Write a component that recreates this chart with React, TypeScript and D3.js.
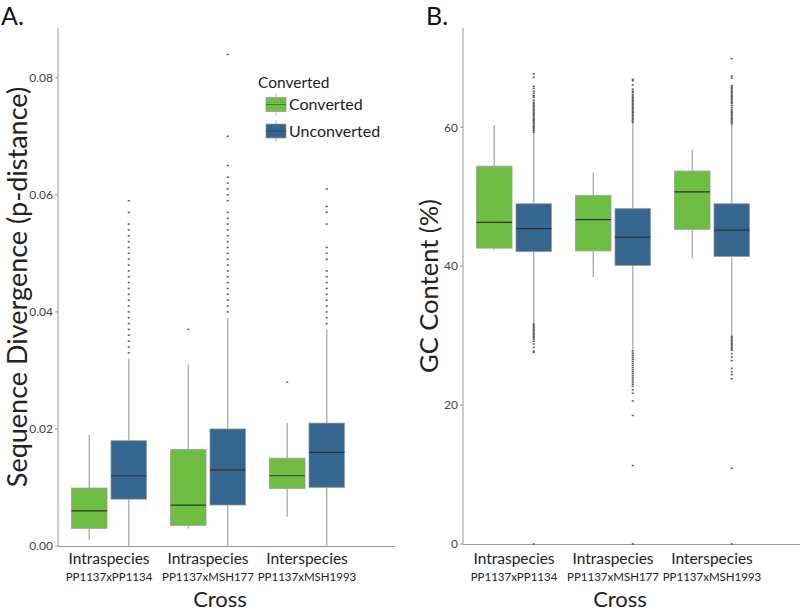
import React from "react";
import * as d3 from "d3";

const categories = ["Intraspecies", "Intraspecies", "Interspecies"];
const subLabels = ["PP1137xPP1134", "PP1137xMSH177", "PP1137xMSH1993"];
const groups = ["Converted", "Unconverted"];

// [whiskerLow, q1, median, q3, whiskerHigh] per cross
const divConverted = [
  [0.001, 0.003, 0.006, 0.0099, 0.019],
  [0.003, 0.0035, 0.007, 0.0165, 0.031],
  [0.005, 0.0098, 0.012, 0.015, 0.021],
];
const divUnconverted = [
  [0.0, 0.008, 0.012, 0.018, 0.032],
  [0.0, 0.007, 0.013, 0.02, 0.039],
  [0.0, 0.01, 0.016, 0.021, 0.037],
];
const divOutConverted = [[], [0.037], [0.028]];
const divOutUnconverted = [
  [0.033, 0.034, 0.035, 0.036, 0.037, 0.038, 0.039, 0.04, 0.041, 0.042, 0.043, 0.044, 0.045, 0.046, 0.047, 0.048, 0.049, 0.05, 0.051, 0.052, 0.053, 0.054, 0.055, 0.057, 0.059],
  [0.04, 0.041, 0.042, 0.043, 0.044, 0.045, 0.046, 0.047, 0.048, 0.049, 0.05, 0.051, 0.052, 0.053, 0.054, 0.055, 0.056, 0.057, 0.059, 0.06, 0.061, 0.062, 0.063, 0.065, 0.07, 0.084],
  [0.038, 0.039, 0.04, 0.041, 0.042, 0.043, 0.044, 0.045, 0.046, 0.047, 0.049, 0.05, 0.051, 0.055, 0.057, 0.058, 0.061],
];
const divTicks = [0, 0.02, 0.04, 0.06, 0.08];

const gcConverted = [
  [42.3, 42.6, 46.3, 54.4, 60.3],
  [38.4, 42.2, 46.7, 50.2, 53.5],
  [41.1, 45.3, 50.7, 53.7, 56.8],
];
const gcUnconverted = [
  [31.8, 42.1, 45.4, 49.0, 59.2],
  [28.0, 40.1, 44.2, 48.3, 60.6],
  [30.0, 41.4, 45.2, 49.0, 60.4],
];
const gcOutConverted = [[], [], []];
const gcOutUnconverted = [
  [59.3, 59.5, 59.6, 59.8, 60.0, 60.1, 60.3, 60.5, 60.6, 60.8, 61.0, 61.1, 61.3, 61.5, 61.7, 61.9, 62.0, 62.2, 62.4, 62.6, 62.8, 63.0, 63.2, 63.4, 63.6, 63.9, 64.3, 64.5, 64.6, 64.9, 65.2, 65.6, 65.9, 67.2, 67.7,
   31.7, 31.5, 31.3, 31.1, 30.9, 30.7, 30.5, 30.3, 30.1, 29.9, 29.7, 29.5, 29.2, 28.8, 28.3, 27.8, 27.6, 0],
  [60.7, 60.9, 61.1, 61.3, 61.5, 61.7, 61.9, 62.1, 62.3, 62.5, 62.7, 62.9, 63.1, 63.3, 63.5, 63.7, 63.9, 64.1, 64.3, 64.5, 64.7, 65.0, 65.2, 65.5, 66.1, 66.7, 66.9,
   27.8, 27.5, 27.2, 26.9, 26.6, 26.3, 26.0, 25.7, 25.4, 25.1, 24.8, 24.5, 24.2, 23.9, 23.6, 23.3, 23.0, 22.7, 22.2, 21.7, 20.6, 18.5, 11.3, 0],
  [60.5, 60.7, 60.9, 61.1, 61.3, 61.5, 61.7, 61.9, 62.1, 62.3, 62.5, 62.8, 63.1, 63.4, 63.6, 63.8, 64.0, 64.2, 64.4, 64.6, 64.8, 65.0, 65.2, 65.4, 65.6, 65.8, 66.0, 67.1, 67.4, 69.9,
   29.9, 29.7, 29.5, 29.3, 29.1, 28.9, 28.7, 28.5, 28.3, 28.1, 27.9, 27.4, 26.9, 26.4, 25.3, 24.8, 24.4, 23.8, 10.9, 0],
];
const gcTicks = [0, 20, 40, 60];

const COLORS = { Converted: "#6fbe44", Unconverted: "#35668f" };
const FONT = "Lato, 'Open Sans', sans-serif";

type PanelProps = {
  x0: number;
  xEnd: number;
  yTop: number;
  yBottom: number;
  yMax: number;
  ticks: number[];
  fmt: (v: number) => string;
  conv: number[][];
  unconv: number[][];
  outConv: number[][];
  outUnconv: number[][];
  letter: string;
  letterX: number;
  yLabel: string;
  yLabelX: number;
  yLabelSize: number;
  crossX: number;
};

function Panel(p: PanelProps) {
  const y = d3.scaleLinear().domain([0, p.yMax]).range([p.yBottom, p.yTop]);
  const xb = d3
    .scaleBand<number>()
    .domain([0, 1, 2])
    .range([p.x0 + 1.5, p.x0 + 298.5]);
  const xg = d3.scaleBand<string>().domain(groups).range([-37.5, 37.5]).paddingInner(0.1);
  const bw = xg.bandwidth();
  const midY = (p.yTop + p.yBottom) / 2;

  const renderBox = (stats: number[], outs: number[], gi: number, g: string) => {
    const cx = (xb(gi) as number) + xb.bandwidth() / 2 + (xg(g) as number) + bw / 2;
    const [wl, q1, med, q3, wh] = stats;
    return (
      <g key={g + gi}>
        <line x1={cx} x2={cx} y1={y(wh)} y2={y(q3)} stroke="#b5b5b5" strokeWidth={1.5} />
        <line x1={cx} x2={cx} y1={y(q1)} y2={y(wl)} stroke="#b5b5b5" strokeWidth={1.5} />
        <rect
          x={cx - bw / 2}
          y={y(q3)}
          width={bw}
          height={y(q1) - y(q3)}
          fill={COLORS[g as keyof typeof COLORS]}
          stroke="#9a9a9a"
          strokeOpacity={0.7}
          strokeWidth={1}
        />
        <line x1={cx - bw / 2} x2={cx + bw / 2} y1={y(med)} y2={y(med)} stroke="#333" strokeWidth={1.2} />
        {outs.map((v, i) => (
          <rect key={i} x={cx - 1} y={y(v) - 0.75} width={2} height={1.5} fill="#555" />
        ))}
      </g>
    );
  };

  return (
    <g fontFamily={FONT}>
      <text x={p.letterX} y={25} fontSize={25} fill="#111">
        {p.letter}
      </text>
      {/* axes */}
      <line x1={p.x0} x2={p.x0} y1={p.yTop} y2={p.yBottom + 0.5} stroke="#999" strokeWidth={1} />
      <line x1={p.x0} x2={p.xEnd} y1={p.yBottom + 0.5} y2={p.yBottom + 0.5} stroke="#999" strokeWidth={1} />
      {p.ticks.map((t) => (
        <g key={t}>
          <line x1={p.x0 - 3} x2={p.x0} y1={y(t)} y2={y(t)} stroke="#999" />
          <text x={p.x0 - 5} y={y(t)} dy="0.35em" textAnchor="end" fontSize={12} fill="#444">
            {p.fmt(t)}
          </text>
        </g>
      ))}
      {categories.map((c, i) => {
        const cx = (xb(i) as number) + xb.bandwidth() / 2;
        return (
          <g key={i}>
            <text x={cx} y={564} textAnchor="middle" fontSize={15.5} fill="#222">
              {c}
            </text>
            <text x={cx} y={580.5} textAnchor="middle" fontSize={11.5} fill="#222">
              {subLabels[i]}
            </text>
          </g>
        );
      })}
      <text x={p.crossX} y={607} textAnchor="middle" fontSize={22} fill="#222">
        Cross
      </text>
      <text
        transform={`translate(${p.yLabelX},${midY}) rotate(-90)`}
        textAnchor="middle"
        fontSize={p.yLabelSize}
        fill="#222"
      >
        {p.yLabel}
      </text>
      {p.conv.map((s, i) => renderBox(s, p.outConv[i], i, "Converted"))}
      {p.unconv.map((s, i) => renderBox(s, p.outUnconv[i], i, "Unconverted"))}
    </g>
  );
}

function Legend() {
  const items = groups;
  return (
    <g fontFamily={FONT}>
      <text x={258} y={88} fontSize={15.5} fill="#222">
        Converted
      </text>
      {items.map((g, i) => {
        const yc = 104.5 + i * 26.5;
        return (
          <g key={g}>
            <line x1={276} x2={276} y1={yc - 11} y2={yc + 11} stroke="#b5b5b5" strokeWidth={1} />
            <rect x={266} y={yc - 7} width={20} height={14} fill={COLORS[g as keyof typeof COLORS]} stroke="#9a9a9a" strokeOpacity={0.7} />
            <line x1={266} x2={286} y1={yc} y2={yc} stroke="#333" strokeOpacity={0.5} />
            <text x={289} y={yc} dy="0.35em" fontSize={16} fill="#222">
              {g}
            </text>
          </g>
        );
      })}
    </g>
  );
}

export default function App() {
  return (
    <svg width={800} height={611} style={{ position: "absolute", left: 0, top: 0, background: "#fff" }}>
      <Panel
        x0={58}
        xEnd={395}
        yTop={28}
        yBottom={546}
        yMax={0.0885}
        ticks={divTicks}
        fmt={(v) => d3.format(".2f")(v)}
        conv={divConverted}
        unconv={divUnconverted}
        outConv={divOutConverted}
        outUnconv={divOutUnconverted}
        letter="A."
        letterX={1}
        yLabel="Sequence Divergence (p-distance)"
        yLabelX={27}
        yLabelSize={27}
        crossX={220}
      />
      <Panel
        x0={463}
        xEnd={800}
        yTop={28}
        yBottom={544}
        yMax={74.3}
        ticks={gcTicks}
        fmt={(v) => String(v)}
        conv={gcConverted}
        unconv={gcUnconverted}
        outConv={gcOutConverted}
        outUnconv={gcOutUnconverted}
        letter="B."
        letterX={426}
        yLabel="GC Content (%)"
        yLabelX={438}
        yLabelSize={25.5}
        crossX={620}
      />
      <Legend />
    </svg>
  );
}
